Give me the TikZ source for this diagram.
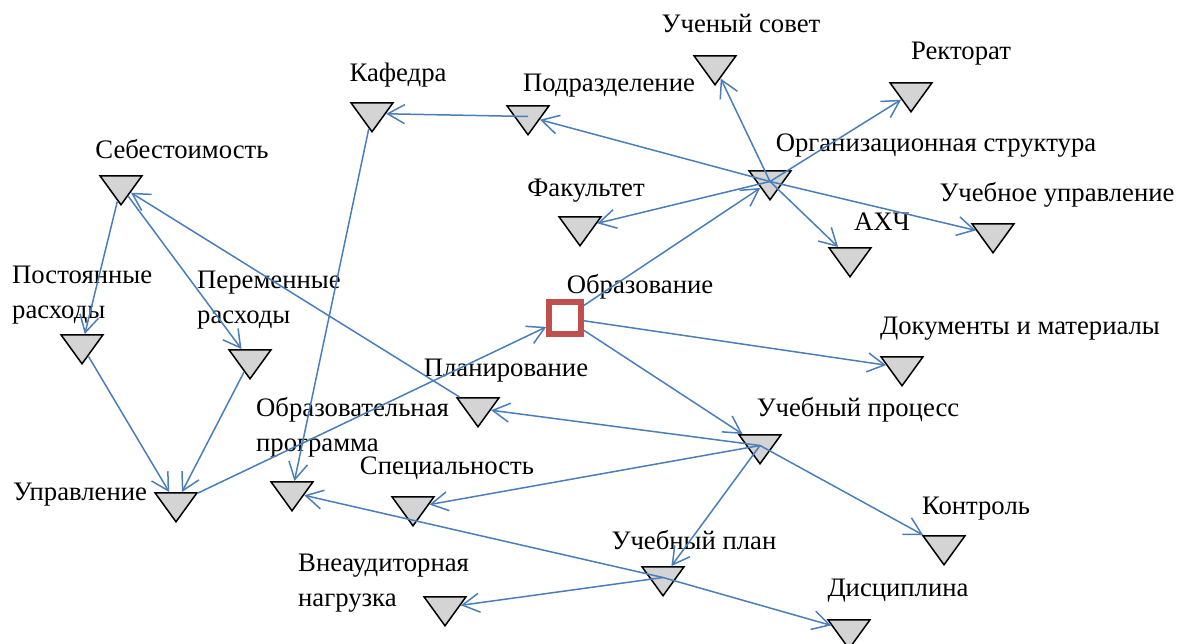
\documentclass[tikz,border=0pt]{standalone}
\usepackage{fontspec}
\setmainfont{Liberation Serif}
\newfontfamily\lblfont{Liberation Serif}
\usetikzlibrary{shapes.geometric,arrows.meta}
\definecolor{lineblue}{HTML}{4A7EBB}
\definecolor{trigray}{HTML}{D4D4D4}
\definecolor{sqred}{HTML}{C0504D}
\begin{document}
\begin{tikzpicture}[x=1pt,y=-1pt,
 tri/.style={isosceles triangle, isosceles triangle stretches, shape border rotate=270,
   minimum width=42pt, minimum height=29pt, inner sep=0pt, draw=black, line width=1.5pt, fill=trigray},
 lbl/.style={inner sep=0pt, font=\lblfont\fontsize{26.7}{35}\selectfont, anchor=base},
 mlbl/.style={lbl, align=left, anchor=base west},
 conn/.style={draw=lineblue, line width=1.5pt, -{Straight Barb[length=17pt,width=19pt]}},
 sq/.style={rectangle, draw=sqred, line width=5.5pt, minimum size=32pt, inner sep=0pt, fill=white}]
\useasboundingbox (0,0) rectangle (1191,643);

% triangles
\node[tri] (uch)  at (715,66.5) {};
\node[tri] (rek)  at (911,93.5) {};
\node[tri] (kaf)  at (372,113.5) {};
\node[tri] (pod)  at (528,116.5) {};
\node[tri] (org)  at (770,181.5) {};
\node[tri] (seb)  at (121,186.5) {};
\node[tri] (fak)  at (580,227.5) {};
\node[tri] (uu)   at (993,234.5) {};
\node[tri] (ahch) at (850,258.5) {};
\node[tri] (post) at (82,345.5) {};
\node[tri] (per)  at (250,360.5) {};
\node[tri] (dok)  at (902,367.5) {};
\node[tri] (plan) at (478,408.5) {};
\node[tri] (op)   at (292,492.5) {};
\node[tri] (up)   at (760,445.5) {};
\node[tri] (spec) at (413,507.5) {};
\node[tri] (upr)  at (176,503.5) {};
\node[tri] (kon)  at (944,546.5) {};
\node[tri] (upl)  at (663,577.5) {};
\node[tri] (vn)   at (445,607.5) {};
\node[tri] (dis)  at (849,630.5) {};
\node[sq]  (obr)  at (565,318) {};

% labels
\node[lbl] (tuch)  at (741,32) {Ученый совет};
\node[lbl] (trek)  at (961,59) {Ректорат};
\node[lbl] (tkaf)  at (398,81) {Кафедра};
\node[lbl] (tpod)  at (609,91) {Подразделение};
\node[lbl] (torg)  at (936,151) {Организационная структура};
\node[lbl] (tseb)  at (182,158) {Себестоимость};
\node[lbl] (tfak)  at (586,196) {Факультет};
\node[lbl] (tuu)   at (1057,201) {Учебное управление};
\node[lbl] (tahch) at (882,230) {АХЧ};
\node[mlbl] (tpost) at (12,318) {Постоянные\\расходы};
\node[mlbl] (tper)  at (197,323) {Переменные\\расходы};
\node[lbl] (tobr)  at (640,293) {Образование};
\node[lbl] (tdok)  at (1020,334) {Документы и материалы};
\node[lbl] (tplan) at (506,376) {Планирование};
\node[mlbl] (top)  at (256,451) {Образовательная\\программа};
\node[lbl] (tup)   at (858,416) {Учебный процесс};
\node[lbl] (tspec) at (447,474) {Специальность};
\node[lbl] (tupr)  at (80,500) {Управление};
\node[lbl] (tkon)  at (976,514) {Контроль};
\node[lbl] (tupl)  at (694,549) {Учебный план};
\node[mlbl] (tvn)  at (298,606) {Внеаудиторная\\нагрузка};
\node[lbl] (tdis)  at (898,596) {Дисциплина};

% connectors
\draw[conn] (org.center) -- (pod);
\draw[conn] (pod.center) -- (kaf);
\draw[conn] (org.center) -- (uch);
\draw[conn] (org.center) -- (rek);
\draw[conn] (org.center) -- (fak);
\draw[conn] (org.center) -- (ahch);
\draw[conn] (org.center) -- (uu);
\draw[conn] (obr) -- (org);
\draw[conn] (obr) -- (dok);
\draw[conn] (obr) -- (up);
\draw[conn] (upr) -- (obr);
\draw[conn] (seb) -- (post);
\draw[conn] (seb) -- (per);
\draw[conn] (plan) -- (seb);
\draw[conn] (post) -- (upr);
\draw[conn] (per) -- (upr);
\draw[conn] (kaf) -- (op);
\draw[conn] (up.center) -- (plan);
\draw[conn] (up.center) -- (spec);
\draw[conn] (up.center) -- (upl);
\draw[conn] (up.center) -- (kon);
\draw[conn] (upl.center) -- (op);
\draw[conn] (upl.center) -- (dis);
\draw[conn] (upl.center) -- (vn);
\end{tikzpicture}
\end{document}
